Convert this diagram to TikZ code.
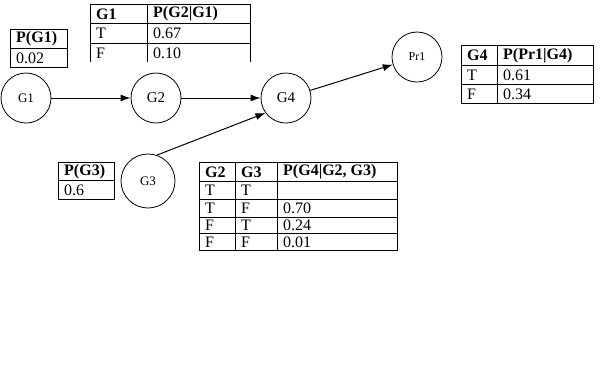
\documentclass[tikz,border=0pt]{standalone}
\usepackage{fontspec}
\setmainfont{Liberation Serif}
\usetikzlibrary{arrows.meta,positioning}

\tikzset{
  bnode/.style={draw, circle, line width=0.8pt, minimum size=50pt, inner sep=0pt, font=\fontsize{13}{13}\selectfont},
  cell/.style={anchor=west, inner sep=0pt, font=\fontsize{16}{16}\selectfont},
  head/.style={cell, font=\fontsize{16}{16}\selectfont\bfseries},
  link/.style={line width=1pt, -{Latex[length=10pt,width=7pt]}},
  grid/.style={line width=1pt}
}

\begin{document}
\begin{tikzpicture}[x=1pt,y=-1pt]
    \useasboundingbox (0,0) rectangle (614,384);
    % network
    \node[bnode] (g1) at (26,98) {G1};
    \node[bnode, font=\fontsize{15}{15}\selectfont] (g2) at (156,98) {G2};
    \node[bnode, font=\fontsize{15}{15}\selectfont] (g4) at (286,98) {G4};
    \node[bnode, font=\fontsize{12}{12}\selectfont] (pr1) at (417,57) {Pr1};
    \node[bnode, minimum size=54pt] (g3) at (148,181) {G3};
    \draw[link] (g1) -- (g2);
    \draw[link] (g2) -- (g4);
    \draw[link] (g3.71) -- (g4.216);
    \draw[link] (g4) -- (pr1);
    % P(G1)
    \draw[grid] (10,29) rectangle (67,67);
    \draw[grid] (10,48) -- (67,48);
    \node[head] (pgone) at (16,39) {P(G1)};
    \node[cell] (pgoneval) at (16,58) {0.02};
    % P(G2|G1)
    \draw[grid] (90,62) -- (90,4) -- (250,4) -- (250,62);
    \draw[grid] (90,23) -- (250,23);
    \draw[grid] (90,43) -- (250,43);
    \draw[grid] (147,4) -- (147,62);
    \node[head] (gtwohead) at (96,14) {G1};
    \node[head] (pgtwo) at (153,14) {P(G2|G1)};
    \node[cell] (gtwot) at (96,33.5) {T};
    \node[cell] (gtwotval) at (153,33.5) {0.67};
    \node[cell] (gtwof) at (96,53) {F};
    \node[cell] (gtwofval) at (153,53) {0.10};
    % P(G3)
    \draw[grid] (58,162) rectangle (114,199);
    \draw[grid] (58,180) -- (114,180);
    \node[head] (pgthree) at (64,171.5) {P(G3)};
    \node[cell] (pgthreeval) at (64,190) {0.6};
    % P(Pr1|G4)
    \draw[grid] (461,45) rectangle (593,103);
    \draw[grid] (461,65) -- (593,65);
    \draw[grid] (461,84) -- (593,84);
    \draw[grid] (497,45) -- (497,103);
    \node[head] (prhead) at (467,55.5) {G4};
    \node[head] (ppr) at (503,55.5) {P(Pr1|G4)};
    \node[cell] (prt) at (467,75) {T};
    \node[cell] (prtval) at (503,75) {0.61};
    \node[cell] (prf) at (467,94) {F};
    \node[cell] (prfval) at (503,94) {0.34};
    % P(G4|G2, G3)
    \draw[grid] (199,162) rectangle (397,250);
    \foreach \yrow in {181,199,217,233}
        \draw[grid] (199,\yrow) -- (397,\yrow);
    \draw[grid] (235,162) -- (235,250);
    \draw[grid] (277,162) -- (277,250);
    \node[head] (gfourtwo) at (205,172) {G2};
    \node[head] (gfourthree) at (241,172) {G3};
    \node[head] (pgfour) at (283,172) {P(G4|G2, G3)};
    \node[cell] (rowatwo) at (205,190.5) {T};
    \node[cell] (rowathree) at (241,190.5) {T};
    \node[cell] (rowbtwo) at (205,208.5) {T};
    \node[cell] (rowbthree) at (241,208.5) {F};
    \node[cell] (rowbval) at (283,208.5) {0.70};
    \node[cell] (rowctwo) at (205,225.5) {F};
    \node[cell] (rowcthree) at (241,225.5) {T};
    \node[cell] (rowcval) at (283,225.5) {0.24};
    \node[cell] (rowdtwo) at (205,242) {F};
    \node[cell] (rowdthree) at (241,242) {F};
    \node[cell] (rowdval) at (283,242) {0.01};
\end{tikzpicture}
\end{document}
